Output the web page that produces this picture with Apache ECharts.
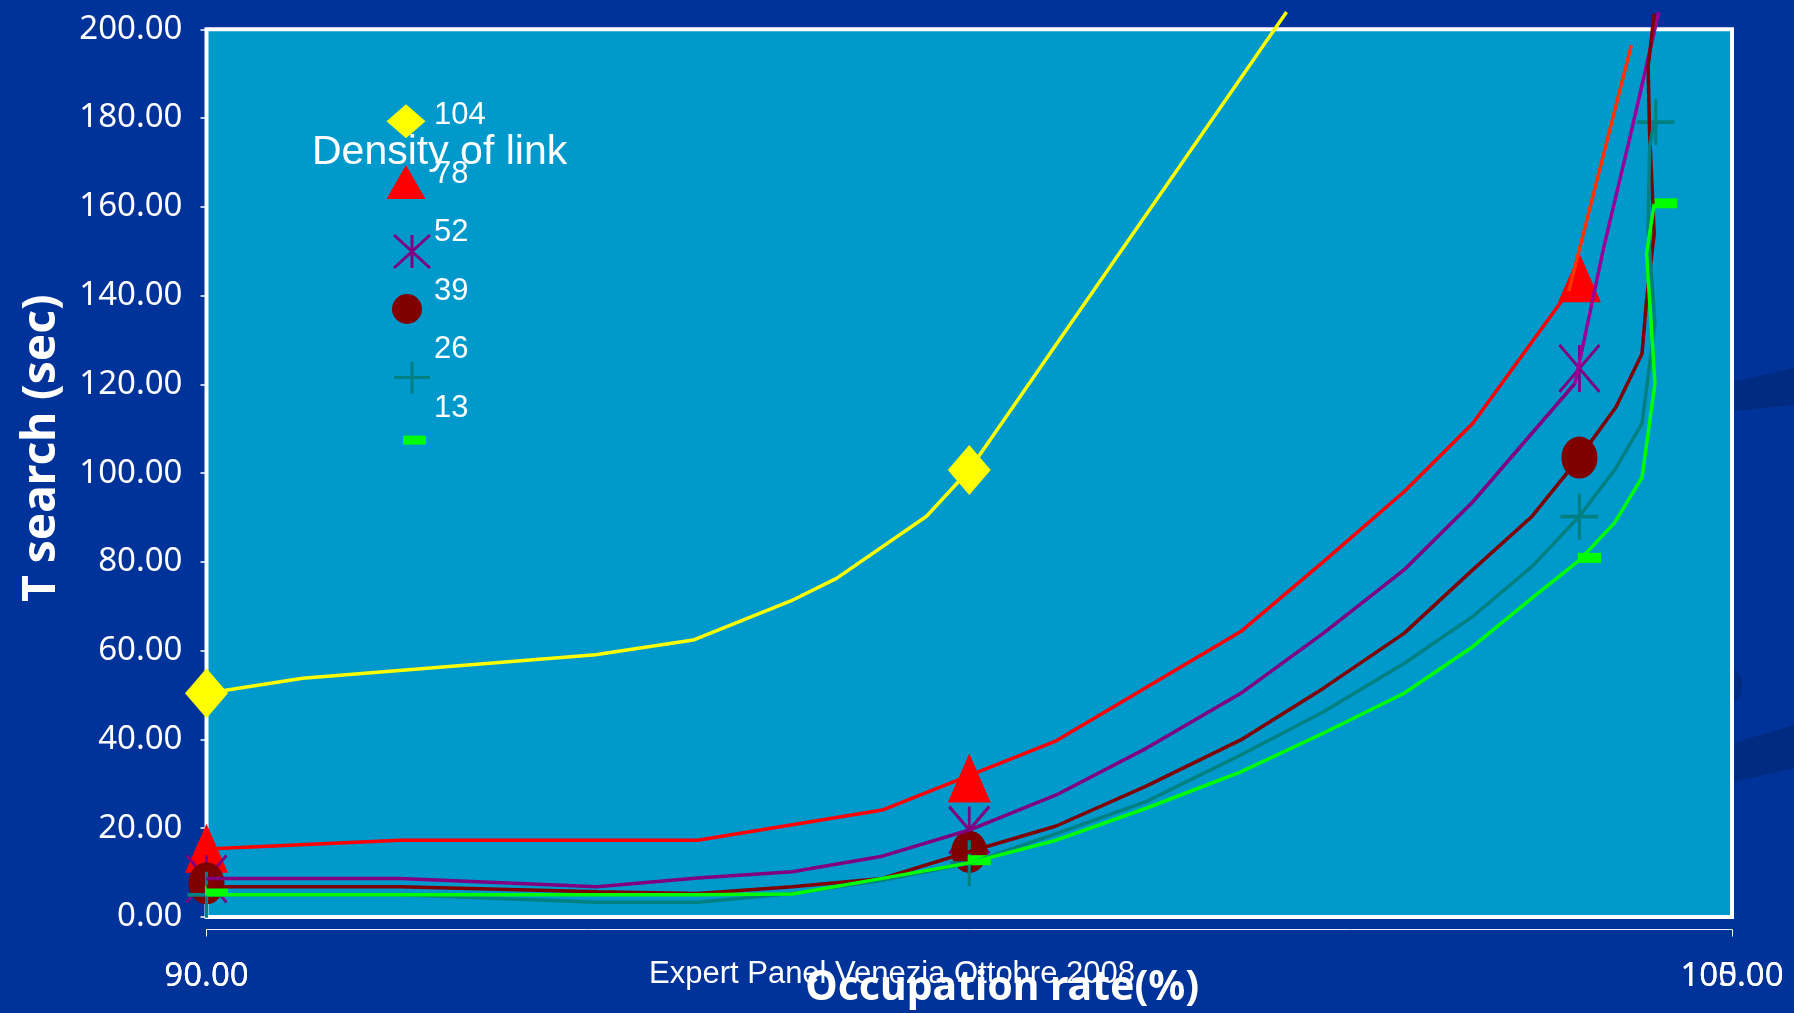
<!DOCTYPE html>
<html>
<head>
<meta charset="utf-8">
<title>T search vs occupation rate</title>
<script src="https://cdn.jsdelivr.net/npm/echarts@6/dist/echarts.min.js"></script>
<style>
  html, body { margin: 0; padding: 0; background: #003399; }
  #chart { width: 1794px; height: 1013px; }
</style>
</head>
<body>
<div id="chart"></div>
<script>
// ---- data ---------------------------------------------------------------
// legend entries: density of link
const densities = ['104', '78', '52', '39', '26', '13'];

// axis ticks
const rateTicks = [90, 100];      // occupation rate (%) used by the curves
const rateTicksAlt = [90, 105];   // second scale drawn on the same line
const timeTicks = [0, 20, 40, 60, 80, 100, 120, 140, 160, 180, 200];

// curves: [occupation rate, T search]
const curve104 = [[90, 50.4], [90.63, 53.8], [92.55, 59.1], [93.19, 62.4], [93.83, 71.2], [94.13, 76.3], [94.72, 90.3], [95.0, 100.7], [97.08, 203.9]];
const curve78 = [[90, 15.3], [91.27, 17.3], [93.22, 17.3], [94.43, 24.1], [95.57, 39.7], [96.78, 64.3], [97.32, 80.0], [97.85, 95.8], [98.30, 111.2], [98.93, 141.0]];
const curve78Tail = [[98.93, 141.0], [99.34, 196.4]];
const curve52 = [[90, 8.7], [91.27, 8.7], [92.56, 6.8], [93.22, 8.8], [93.84, 10.2], [94.43, 13.7], [95.0, 19.6], [95.57, 27.5], [96.16, 38.0], [96.78, 50.4], [97.32, 63.9], [97.85, 78.2], [98.30, 93.5], [98.97, 120.2]];
const curve52Tail = [[98.97, 120.2], [99.16, 151.0], [99.34, 177.0], [99.52, 203.9]];
const curve39 = [[90, 6.8], [91.27, 6.8], [92.56, 5.7], [93.22, 5.3], [93.84, 6.8], [94.43, 8.7], [95.0, 14.7], [95.57, 20.5], [96.16, 29.5], [96.78, 39.9], [97.32, 51.5], [97.85, 63.9], [98.30, 78.2], [98.69, 90.3], [99.0, 103.5], [99.24, 114.9], [99.41, 126.9], [99.44, 139.0], [99.49, 154.0], [99.46, 176.5], [99.45, 191.5], [99.49, 203.5]];
const curve26 = [[90, 5.0], [91.27, 5.0], [92.56, 3.3], [93.22, 3.3], [93.84, 5.3], [94.43, 8.3], [95.0, 12.1], [95.57, 18.8], [96.16, 26.0], [96.78, 36.5], [97.32, 46.2], [97.85, 57.1], [98.30, 67.7], [98.69, 79.0], [99.0, 90.3], [99.24, 101.2], [99.41, 111.2], [99.495, 133.8], [99.45, 154.7], [99.46, 173.5], [99.49, 179.1]];
const curve13 = [[90, 5.0], [91.27, 5.0], [92.56, 5.0], [93.22, 5.0], [93.84, 5.2], [94.43, 8.7], [95.0, 12.2], [95.57, 17.3], [96.16, 24.5], [96.78, 32.7], [97.32, 41.4], [97.85, 50.4], [98.30, 60.9], [98.69, 71.9], [99.0, 80.4], [99.23, 88.8], [99.41, 99.0], [99.495, 120.2], [99.44, 149.5], [99.49, 160.7]];

// marked points
const points104 = [[90, 50.4], [95, 100.7]];
const points78 = [[90, 15.5], [95, 31.3], [99, 144.0]];
const points52 = [[90, 8.6], [95, 19.6], [99, 123.6]];
const points39 = [[90, 7.6], [95, 14.7], [99, 103.5]];
const points26 = [[90, 5.0], [95, 12.1], [99, 90.2], [99.5, 179.1]];
const points13 = [[90, 6.0], [95, 12.8], [99, 80.9], [99.5, 160.8]];

// ---- styling ------------------------------------------------------------
const WHITE = '#ffffff';
const STAR = 'path://M0,0L40,47M40,0L0,47M20,0L20,47';
const PLUS = 'path://M0,23L38,23M19,0L19,46';
const fmt2 = v => v.toFixed(2);

function curve(name, data, color, width) {
  return {
    type: 'line', name, data, symbol: 'none', showSymbol: false, clip: false,
    silent: true, animation: false,
    lineStyle: { color, width, opacity: 1 }, itemStyle: { color, opacity: 1 },
    emphasis: { disabled: true }
  };
}

function marks(name, data, symbol, size, itemStyle, offset) {
  return {
    type: 'scatter', name, data, symbol, symbolSize: size,
    symbolOffset: offset || [0, 0], clip: false, silent: true, animation: false,
    itemStyle: Object.assign({ opacity: 1 }, itemStyle), emphasis: { disabled: true }
  };
}

const stroke = (c, w) => ({ color: 'rgba(0,0,0,0)', borderColor: c, borderWidth: w });

// legend symbol boxes: [left, top, width, height]
const iconBoxes = [
  [386.5, 104.3, 39, 34],
  [386.5, 165.0, 39, 34],
  [392.5, 233.5, 36, 33],
  [390.5, 294.0, 33, 30],
  [392.5, 360.0, 36, 32],
  [403.0, 435.6, 23, 9]
];
const strokeIcons = { '52': true, '26': true };

const iconLegends = densities.map((name, i) => {
  const [l, t, w, h] = iconBoxes[i];
  return {
    data: [name], orient: 'vertical', left: l, top: t,
    itemWidth: w, itemHeight: h, padding: 0, selectedMode: false,
    symbolKeepAspect: false, formatter: () => '',
    textStyle: { fontSize: 1 },
    itemStyle: { borderWidth: strokeIcons[name] ? 3 : 0, opacity: 1 }
  };
});

const textLegend = {
  data: densities.map(n => ({ name: n, icon: 'none' })),
  orient: 'vertical', left: 419, top: 100,
  itemWidth: 10, itemHeight: 30, itemGap: 27.6, padding: 0, selectedMode: false,
  textStyle: { color: WHITE, fontSize: 31, fontFamily: 'Liberation Sans', lineHeight: 30 }
};

const rateAxisBase = {
  type: 'value', position: 'bottom', offset: 12.5,
  splitLine: { show: false },
  axisLabel: {
    formatter: fmt2, color: WHITE, fontSize: 33, fontFamily: 'Noto Sans',
    margin: 31, showMinLabel: true, showMaxLabel: true
  }
};

const option = {
  backgroundColor: '#003399',
  animation: false,
  title: [
    {
      text: 'Expert Panel Venezia Ottobre 2008', left: 892, top: 959,
      textAlign: 'center', padding: 0,
      textStyle: { color: WHITE, fontSize: 31, fontWeight: 'normal', fontFamily: 'Liberation Sans' }
    },
    {
      text: 'Density of link', left: 312, top: 132, padding: 0,
      textStyle: { color: WHITE, fontSize: 41, fontWeight: 'normal', fontFamily: 'Liberation Sans' }
    }
  ],
  legend: [textLegend].concat(iconLegends),
  graphic: [
    { type: 'polygon', z: -5, shape: { points: [[1734, 382], [1794, 368], [1794, 405], [1734, 411]] }, style: { fill: '#002b80' } },
    { type: 'polygon', z: -5, shape: { points: [[1734, 743], [1794, 725], [1794, 768], [1734, 782]] }, style: { fill: '#002b80' } },
    { type: 'circle', z: -5, shape: { cx: 1720, cy: 686, r: 22 }, style: { fill: '#002b80' } }
  ],
  grid: {
    left: 206.5, right: 62, top: 29.3, bottom: 96,
    show: true, backgroundColor: '#0099CC', borderColor: WHITE, borderWidth: 4,
    containLabel: false, outerBoundsMode: 'none'
  },
  xAxis: [
    Object.assign({}, rateAxisBase, {
      min: rateTicks[0], max: rateTicks[rateTicks.length - 1],
      interval: rateTicks[1] - rateTicks[0],
      axisLine: { show: true, onZero: false, lineStyle: { color: '#e6ecf8', width: 1 } },
      axisTick: { show: true, length: 7, lineStyle: { color: WHITE, width: 1 } },
      name: 'Occupation rate(%)', nameLocation: 'middle', nameGap: 38, nameMoveOverlap: false,
      nameTextStyle: { color: WHITE, fontSize: 41, fontWeight: 'bold', fontFamily: 'Noto Sans', padding: [0, 0, 0, 66] }
    }),
    Object.assign({}, rateAxisBase, {
      min: rateTicksAlt[0], max: rateTicksAlt[rateTicksAlt.length - 1],
      interval: rateTicksAlt[1] - rateTicksAlt[0],
      axisLine: { show: false, onZero: false },
      axisTick: { show: false }
    })
  ],
  yAxis: {
    type: 'value', min: timeTicks[0], max: timeTicks[timeTicks.length - 1],
    interval: timeTicks[1] - timeTicks[0],
    axisLine: { show: false },
    axisTick: { show: true, length: 6, lineStyle: { color: WHITE, width: 1.5 } },
    axisLabel: { formatter: fmt2, color: WHITE, fontSize: 33, fontFamily: 'Noto Sans', margin: 24, padding: [0, 0, 8, 0] },
    splitLine: { show: false },
    name: 'T search (sec)', nameLocation: 'middle', nameGap: 142,
    nameTextStyle: { color: WHITE, fontSize: 46, fontWeight: 'bold', fontFamily: 'Noto Sans', padding: [0, 0, 0, 50] }
  },
  series: [
    curve('curve-104', curve104, '#FFFF00', 3.5),
    marks('104', points104, 'diamond', [43, 50], { color: '#FFFF00' }),
    curve('curve-78', curve78, '#FF0000', 3.5),
    marks('78', points78, 'triangle', [43, 49], { color: '#FF0000' }),
    curve('curve-78-tail', curve78Tail, '#FF3300', 3.5),
    curve('curve-52', curve52, '#800080', 3.5),
    marks('52', points52, STAR, [40, 47], stroke('#800080', 3)),
    curve('curve-52-tail', curve52Tail, '#990099', 3.5),
    curve('curve-39', curve39, '#800000', 3.5),
    marks('39', points39, 'circle', [36, 42], { color: '#800000' }),
    curve('curve-26', curve26, '#008080', 3.5),
    marks('26', points26, PLUS, [38, 46], stroke('#008080', 3.5)),
    curve('curve-13', curve13, '#00FF00', 3.5),
    marks('13', points13, 'rect', [23, 10], { color: '#00FF00' }, [10, 0])
  ]
};

const chart = echarts.init(document.getElementById('chart'));
chart.setOption(option);
</script>
</body>
</html>
